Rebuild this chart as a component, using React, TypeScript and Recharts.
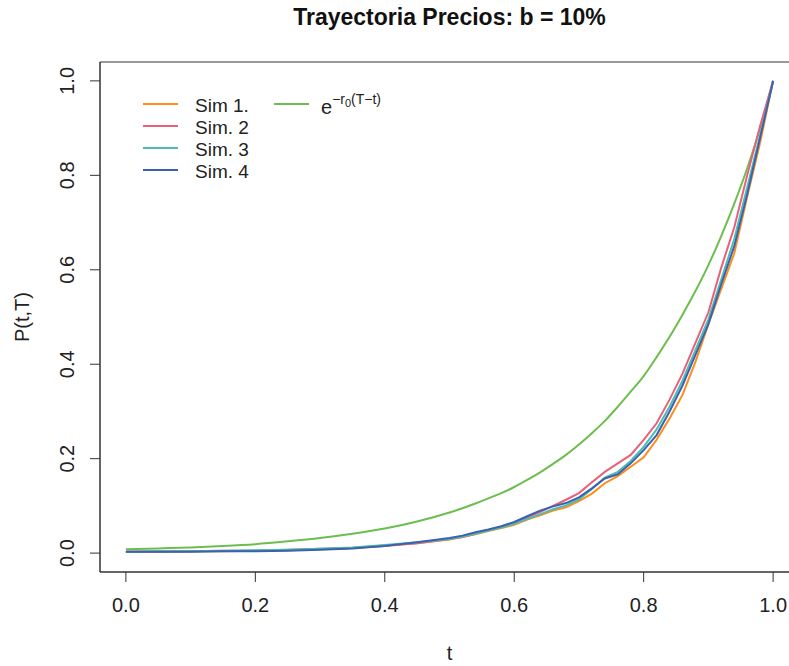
import React from 'react';
import { LineChart, Line, XAxis, YAxis, ReferenceArea } from 'recharts';

// Time grid (fraction of maturity)
const tGrid = [
  0, 0.05, 0.1, 0.15, 0.2, 0.25, 0.3, 0.35, 0.4, 0.45, 0.5, 0.52, 0.54, 0.56, 0.58, 0.6, 0.62, 0.64,
  0.66, 0.68, 0.7, 0.72, 0.74, 0.76, 0.78, 0.8, 0.82, 0.84, 0.86, 0.88, 0.9, 0.92, 0.94, 0.96, 0.98, 1.0,
];

// Simulated bond price paths
const sim1 = [
  0.003, 0.003, 0.004, 0.004, 0.005, 0.006, 0.008, 0.011, 0.015, 0.021, 0.029, 0.034, 0.040, 0.047, 0.053, 0.060,
  0.071, 0.080, 0.090, 0.097, 0.110, 0.126, 0.148, 0.163, 0.183, 0.203, 0.240, 0.285, 0.335, 0.405, 0.485, 0.560,
  0.635, 0.755, 0.870, 1.0,
];
const sim2 = [
  0.003, 0.003, 0.004, 0.005, 0.005, 0.007, 0.009, 0.011, 0.016, 0.021, 0.030, 0.034, 0.041, 0.049, 0.055, 0.063,
  0.075, 0.087, 0.100, 0.113, 0.127, 0.150, 0.172, 0.190, 0.208, 0.240, 0.275, 0.325, 0.380, 0.445, 0.510, 0.605,
  0.690, 0.800, 0.905, 1.0,
];
const sim3 = [
  0.003, 0.004, 0.004, 0.005, 0.006, 0.007, 0.009, 0.012, 0.017, 0.023, 0.030, 0.035, 0.041, 0.048, 0.054, 0.062,
  0.072, 0.082, 0.093, 0.101, 0.114, 0.136, 0.160, 0.172, 0.195, 0.225, 0.262, 0.310, 0.365, 0.430, 0.495, 0.580,
  0.665, 0.775, 0.885, 1.0,
];
const sim4 = [
  0.003, 0.003, 0.003, 0.004, 0.004, 0.005, 0.007, 0.010, 0.015, 0.023, 0.032, 0.037, 0.044, 0.050, 0.057, 0.066,
  0.078, 0.090, 0.099, 0.106, 0.118, 0.137, 0.158, 0.167, 0.190, 0.218, 0.250, 0.300, 0.355, 0.420, 0.485, 0.570,
  0.650, 0.760, 0.880, 1.0,
];
// Deterministic discount curve e^{-r0 (T-t)}
const discount = [
  0.008, 0.010, 0.012, 0.015, 0.019, 0.025, 0.032, 0.041, 0.052, 0.067, 0.086, 0.095, 0.105, 0.116, 0.127, 0.140,
  0.155, 0.171, 0.189, 0.208, 0.230, 0.254, 0.280, 0.310, 0.342, 0.375, 0.415, 0.458, 0.505, 0.555, 0.610, 0.672,
  0.740, 0.815, 0.900, 1.0,
];

const axisTicks = [0, 0.2, 0.4, 0.6, 0.8, 1.0];
const simNames = ['Sim 1.', 'Sim. 2', 'Sim. 3', 'Sim. 4'];
const simKeys = ['s1', 's2', 's3', 's4'];
const simColors = ['#FF8C1A', '#E8607A', '#4DBDB0', '#3A62B0'];
const discountColor = '#6DBE4F';

const data = tGrid.map((t, i) => ({
  t,
  s1: sim1[i],
  s2: sim2[i],
  s3: sim3[i],
  s4: sim4[i],
  d: discount[i],
}));

const FONT = '"Liberation Sans", Arial, sans-serif';
const INK = '#222';

const XTick = (props: any) => {
  const { x, y, payload } = props;
  return (
    <text x={x} y={y} dy="0.71em" textAnchor="middle" fontSize={20} fontFamily={FONT} fill={INK}>
      {payload.value.toFixed(1)}
    </text>
  );
};

const YTick = (props: any) => {
  const { x, y, payload } = props;
  return (
    <text
      x={x}
      y={y}
      textAnchor="middle"
      transform={`rotate(-90, ${x}, ${y})`}
      fontSize={20}
      fontFamily={FONT}
      fill={INK}
    >
      {payload.value.toFixed(1)}
    </text>
  );
};

const YTitle = (props: any) => {
  const vb = props.viewBox;
  const x = vb.x + 29;
  const y = vb.y + vb.height / 2;
  return (
    <text x={x} y={y} textAnchor="middle" transform={`rotate(-90, ${x}, ${y})`} fontSize={20} fontFamily={FONT} fill={INK}>
      P(t,T)
    </text>
  );
};

const LegendLine = ({ color }: { color: string }) => (
  <div style={{ width: 35, height: 2, background: color, flex: 'none' }} />
);

// Legend drawn without a frame, two columns: simulations and the discount curve
const LegendBox = () => (
  <div
    style={{
      position: 'absolute',
      left: 143,
      top: 93,
      width: 400,
      height: 100,
      fontFamily: FONT,
      color: INK,
    }}
  >
    {simNames.map((name, i) => (
      <div
        key={name}
        style={{
          position: 'absolute',
          left: 0,
          top: i * 22,
          height: 22,
          display: 'flex',
          alignItems: 'center',
          fontSize: 19,
          whiteSpace: 'nowrap',
        }}
      >
        <LegendLine color={simColors[i]} />
        <span style={{ marginLeft: 17, lineHeight: '22px', position: 'relative', top: 2 }}>{name}</span>
      </div>
    ))}
    <div
      style={{
        position: 'absolute',
        left: 131,
        top: 0,
        height: 22,
        display: 'flex',
        alignItems: 'center',
        whiteSpace: 'nowrap',
      }}
    >
      <LegendLine color={discountColor} />
      <span style={{ marginLeft: 12, fontSize: 20, lineHeight: '22px', position: 'relative', top: 4 }}>
        e
        <sup style={{ fontSize: 14, verticalAlign: 0, position: 'relative', top: -10 }}>
          −r<sub style={{ fontSize: 11, verticalAlign: 0, position: 'relative', top: 3 }}>0</sub>(T−t)
        </sup>
      </span>
    </div>
  </div>
);

export default function App() {
  return (
    <div
      style={{
        position: 'absolute',
        left: 0,
        top: 0,
        width: 789,
        height: 666,
        overflow: 'hidden',
        background: '#fff',
      }}
    >
      <div
        style={{
          position: 'absolute',
          left: 100,
          width: 699,
          top: 6,
          textAlign: 'center',
          fontFamily: FONT,
          fontWeight: 'bold',
          fontSize: 23,
          lineHeight: '23px',
          color: '#111',
        }}
      >
        Trayectoria Precios: b = 10%
      </div>
      <div style={{ position: 'absolute', left: 0, top: 0 }}>
        <LineChart width={820} height={666} data={data} margin={{ top: 62, right: 21, bottom: 0, left: 0 }}>
          <XAxis
            dataKey="t"
            type="number"
            domain={[-0.04, 1.04]}
            ticks={axisTicks}
            allowDataOverflow
            height={94}
            tickSize={10}
            tickMargin={16}
            tick={<XTick />}
            axisLine={{ stroke: '#333' }}
            tickLine={{ stroke: '#333' }}
            label={{ value: 't', position: 'insideBottom', offset: 6, fontSize: 20, fontFamily: FONT, fill: INK }}
          />
          <YAxis
            type="number"
            domain={[-0.04, 1.04]}
            ticks={axisTicks}
            allowDataOverflow
            width={100}
            tickSize={10}
            tickMargin={16}
            tick={<YTick />}
            axisLine={{ stroke: '#333' }}
            tickLine={{ stroke: '#333' }}
            label={<YTitle />}
          />
          <ReferenceArea
            x1={-0.04}
            x2={1.04}
            y1={-0.04}
            y2={1.04}
            fill="none"
            fillOpacity={0}
            stroke="#333"
            strokeWidth={1}
            ifOverflow="visible"
          />
          <Line
            dataKey="d"
            name="discount"
            type="monotone"
            stroke={discountColor}
            strokeWidth={2}
            dot={false}
            activeDot={false}
            isAnimationActive={false}
          />
          {simKeys.map((k, i) => (
            <Line
              key={k}
              dataKey={k}
              name={simNames[i]}
              type="linear"
              stroke={simColors[i]}
              strokeWidth={2}
              dot={false}
              activeDot={false}
              isAnimationActive={false}
            />
          ))}
        </LineChart>
      </div>
      <LegendBox />
    </div>
  );
}
